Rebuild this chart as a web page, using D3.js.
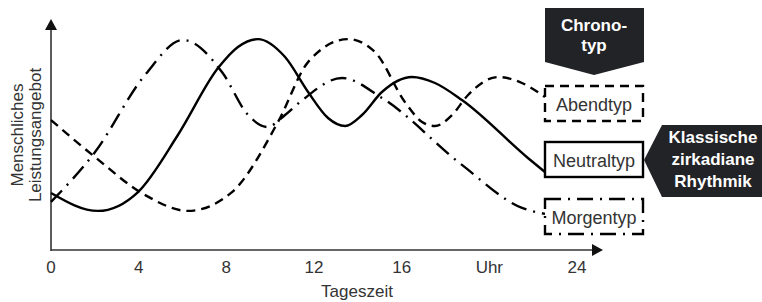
<!DOCTYPE html>
<html>
<head>
<meta charset="utf-8">
<script src="https://d3js.org/d3.v7.min.js"></script>
<style>
  body { margin: 0; background: #fff; }
  svg { font-family: "Liberation Sans", Arial, sans-serif; }
</style>
</head>
<body>
<div id="chart"></div>
<script>
// hours of the day and relative performance (0..10)
const neutral = [[0, 2.48], [2.14, 1.7], [3.97, 2.52], [5.79, 5.0], [7.62, 7.91], [8.53, 8.83],
  [9.44, 9.17], [10.68, 8.39], [11.73, 6.87], [12.64, 5.74], [13.42, 5.39], [14.19, 5.87],
  [15.1, 6.87], [16.47, 7.52], [17.52, 7.26], [18.75, 6.52], [21.76, 4.0], [22.54, 3.39]]
const abend = [[0, 5.65], [2.01, 4.04], [4.29, 2.39], [6.25, 1.7], [8.26, 2.52], [10.36, 5.57],
  [11.73, 8.17], [13.55, 9.17], [14.78, 8.61], [16.15, 6.43], [16.93, 5.57], [17.52, 5.39],
  [18.3, 5.87], [19.03, 6.74], [20.4, 7.52], [21.49, 7.26], [22.54, 6.65]]
const morgen = [[0, 2.09], [2.01, 4.26], [4.29, 7.61], [6.02, 9.13], [7.8, 7.74], [8.99, 5.87],
  [9.86, 5.35], [10.68, 5.87], [11.36, 6.43], [13.28, 7.48], [15.1, 6.61], [18.75, 3.7],
  [21.49, 1.83], [22.54, 1.57]]
const xTicks = [0, 4, 8, 12, 16, 20, 24]
const xTickLabels = ['0', '4', '8', '12', '16', 'Uhr', '24']
const legendNames = ['Abendtyp', 'Neutraltyp', 'Morgentyp']

const width = 762, height = 302
const svg = d3.select('#chart').append('svg')
  .attr('width', width).attr('height', height)

const x = d3.scaleLinear().domain([0, 24]).range([51, 577])
const y = d3.scaleLinear().domain([0, 10]).range([250, 20])

const ink = '#333'

// axes
svg.append('line').attr('x1', 51).attr('y1', 250).attr('x2', 594).attr('y2', 250)
  .attr('stroke', ink).attr('stroke-width', 1.6)
svg.append('path').attr('d', 'M592,244 L603,250 L592,256 Z').attr('fill', '#111')
svg.append('line').attr('x1', 51).attr('y1', 251).attr('x2', 51).attr('y2', 28)
  .attr('stroke', ink).attr('stroke-width', 1.6)
svg.append('path').attr('d', 'M45,30 L51,19 L57,30 Z').attr('fill', '#111')

svg.selectAll('.tick').data(xTicks).enter().append('text')
  .attr('x', d => x(d)).attr('y', 273)
  .attr('text-anchor', 'middle').attr('font-size', 17).attr('fill', ink)
  .text((d, i) => xTickLabels[i])

svg.append('text').attr('x', 357).attr('y', 297).attr('text-anchor', 'middle')
  .attr('font-size', 17).attr('fill', ink).text('Tageszeit')

const yl = svg.append('text').attr('transform', 'translate(23,135) rotate(-90)')
  .attr('text-anchor', 'middle').attr('font-size', 17).attr('fill', ink)
yl.append('tspan').attr('x', 0).attr('dy', 0).text('Menschliches')
yl.append('tspan').attr('x', 0).attr('dy', 18).text('Leistungsangebot')

// curves
const line = d3.line().x(d => x(d[0])).y(d => y(d[1])).curve(d3.curveMonotoneX)
const styles = [
  { data: abend, dash: '9,6' },
  { data: neutral, dash: null },
  { data: morgen, dash: '16,7,2,7' }
]
styles.forEach(s => {
  svg.append('path').datum(s.data).attr('d', line)
    .attr('fill', 'none').attr('stroke', '#000').attr('stroke-width', 2.4)
    .attr('stroke-dasharray', s.dash)
})

// legend boxes
const boxY = [86, 142, 199]
legendNames.forEach((n, i) => {
  svg.append('rect').attr('x', 545).attr('y', boxY[i]).attr('width', 98).attr('height', 35)
    .attr('fill', '#fff').attr('stroke', '#000').attr('stroke-width', 2.4)
    .attr('stroke-dasharray', styles[i].dash)
  svg.append('text').attr('x', 594).attr('y', boxY[i] + 25).attr('text-anchor', 'middle')
    .attr('font-size', 18).attr('fill', ink).text(n)
})

// Chronotyp badge
const dark = '#222326'
svg.append('path').attr('d', 'M545,8 L644,8 L644,62 L594,75 L545,62 Z').attr('fill', dark)
svg.append('text').attr('x', 594).attr('y', 31).attr('text-anchor', 'middle')
  .attr('font-size', 17).attr('font-weight', 'bold').attr('fill', '#fff').text('Chrono-')
svg.append('text').attr('x', 594).attr('y', 51).attr('text-anchor', 'middle')
  .attr('font-size', 17).attr('font-weight', 'bold').attr('fill', '#fff').text('typ')

// Klassische badge
svg.append('path').attr('d', 'M662,125 L764,125 L764,197 L662,197 L644,160 Z').attr('fill', dark)
const kl = ['Klassische', 'zirkadiane', 'Rhythmik']
kl.forEach((t, i) => {
  svg.append('text').attr('x', 713).attr('y', 143 + i * 22).attr('text-anchor', 'middle')
    .attr('font-size', 17).attr('font-weight', 'bold').attr('fill', '#fff').text(t)
})
</script>
</body>
</html>
